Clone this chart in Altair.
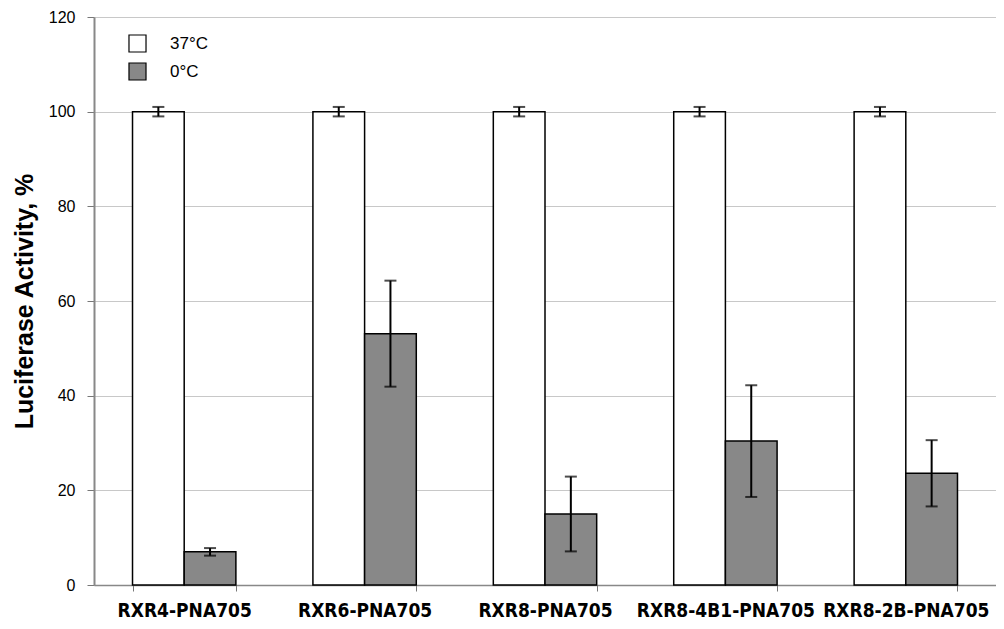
import altair as alt
import pandas as pd

groups = ["RXR4-PNA705", "RXR6-PNA705", "RXR8-PNA705", "RXR8-4B1-PNA705", "RXR8-2B-PNA705"]
temps = ["37°C", "0°C"]
vals_37 = [100, 100, 100, 100, 100]
err_37 = [1.0, 1.0, 1.0, 1.0, 1.0]
vals_0 = [7.0, 53.1, 15.0, 30.4, 23.6]
err_0 = [0.8, 11.2, 7.9, 11.8, 7.0]

rows = []
for g, v, e in zip(groups, vals_37, err_37):
    rows.append({"group": g, "temp": temps[0], "value": v, "lo": v - e, "hi": v + e})
for g, v, e in zip(groups, vals_0, err_0):
    rows.append({"group": g, "temp": temps[1], "value": v, "lo": v - e, "hi": v + e})
df = pd.DataFrame(rows)

FONT = "Liberation Sans"
xscale = alt.Scale(domain=groups, paddingInner=0.427, paddingOuter=0.2135)
x = alt.X("group:N", scale=xscale, sort=groups, title=None,
          axis=alt.Axis(labelAngle=0, labelFont="DejaVu Sans Condensed", labelFontSize=19,
                        labelFontWeight="bold", labelColor="black", labelPadding=10,
                        tickBand="extent", tickSize=6, tickColor="#777777",
                        domainColor="#888888", domainWidth=1.5, grid=False, labelLimit=300))
xo = alt.XOffset("temp:N", sort=temps, scale=alt.Scale(domain=temps, paddingInner=0, paddingOuter=0))
y = alt.Y("value:Q", scale=alt.Scale(domain=[0, 120], nice=False),
          axis=alt.Axis(values=[0, 20, 40, 60, 80, 100, 120], title="Luciferase Activity, %",
                        titleFont=FONT, titleFontSize=25, titleFontWeight="bold", titleColor="black",
                        titlePadding=11, labelFont=FONT, labelFontSize=16, labelColor="black",
                        labelPadding=12, tickSize=7, tickColor="#777777", domainColor="#888888",
                        domainWidth=2, gridColor="#c8c8c8", gridWidth=1.2))

bars = alt.Chart(df).mark_bar(stroke="black", strokeWidth=1.5).encode(
    x=x, xOffset=xo, y=y,
    fill=alt.Fill("temp:N", sort=temps,
                  scale=alt.Scale(domain=temps, range=["#ffffff", "#888888"]),
                  legend=alt.Legend(title=None, orient="none", legendX=34, legendY=17,
                                    symbolType="square", symbolSize=290, symbolStrokeColor="black",
                                    symbolStrokeWidth=1.2, labelFont=FONT, labelFontSize=17,
                                    labelColor="black", labelOffset=23, rowPadding=5,
                                    symbolOpacity=1)),
)

rules = alt.Chart(df).mark_rule(color="black", strokeWidth=2).encode(
    x=alt.X("group:N", scale=xscale, sort=groups), xOffset=xo,
    y=alt.Y("lo:Q"), y2="hi:Q")

caps_hi = alt.Chart(df).mark_tick(color="black", thickness=2, size=12).encode(
    x=alt.X("group:N", scale=xscale, sort=groups), xOffset=xo, y=alt.Y("hi:Q"))
caps_lo = alt.Chart(df).mark_tick(color="black", thickness=2, size=12).encode(
    x=alt.X("group:N", scale=xscale, sort=groups), xOffset=xo, y=alt.Y("lo:Q"))

chart = alt.layer(bars, rules, caps_hi, caps_lo).properties(
    width=902, height=568,
    autosize=alt.AutoSizeParams(type="none"),
    padding={"left": 86, "top": 9, "right": 0, "bottom": 36},
).configure_view(stroke=None).configure(background="white")

chart.save("out.html", embed_options={"renderer": "svg", "actions": False})
